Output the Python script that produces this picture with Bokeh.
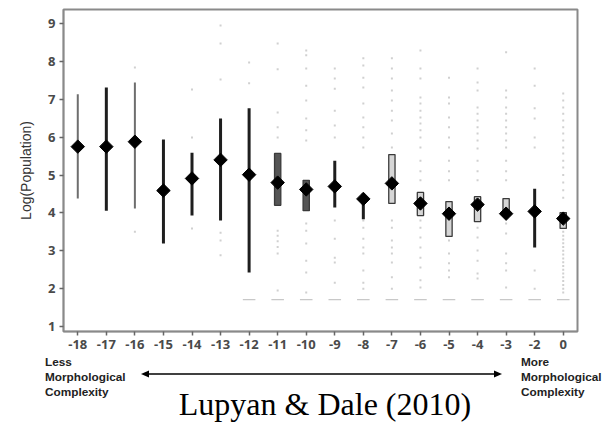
import math
from bokeh.plotting import figure
from bokeh.layouts import column
from bokeh.models import Range1d, FixedTicker, Div
from bokeh.embed import file_html
from bokeh.resources import INLINE

# ---------------- data ----------------
categories = ["-18", "-17", "-16", "-15", "-14", "-13", "-12", "-11", "-10",
              "-9", "-8", "-7", "-6", "-5", "-4", "-3", "-2", "0"]
means = [5.75, 5.75, 5.88, 4.59, 4.91, 5.40, 5.01, 4.80, 4.62,
         4.70, 4.37, 4.78, 4.25, 3.98, 4.22, 3.98, 4.04, 3.85]

line_cats = ["-18", "-17", "-16", "-15", "-14", "-13", "-12", "-9", "-8", "-2"]
line_low = [4.38, 4.06, 4.12, 3.19, 3.93, 3.80, 2.43, 4.14, 3.83, 3.09]
line_high = [7.13, 7.31, 7.44, 5.94, 5.59, 6.49, 6.76, 5.38, 4.51, 4.64]
light_line_cats = ["-18", "-16"]

box_cats = ["-11", "-10", "-7", "-6", "-5", "-4", "-3", "0"]
box_low = [4.20, 4.06, 4.25, 3.93, 3.38, 3.77, 3.93, 3.59]
box_high = [5.57, 4.86, 5.54, 4.54, 4.30, 4.43, 4.38, 4.01]
dark_box_cats = ["-11", "-10"]

dot_values = {
    "-16": [7.84, 3.50],
    "-14": [7.26, 5.99, 3.59],
    "-13": [8.95, 8.47, 7.52, 3.48, 3.27, 2.88],
    "-12": [7.97, 7.42],
    "-11": [8.47, 7.79, 6.65, 6.26, 5.99, 3.53, 3.40, 3.25, 3.10, 2.93, 1.95],
    "-10": [8.29, 8.16, 7.81, 7.36, 6.97, 6.49, 6.18, 5.91, 3.72, 3.53, 3.19, 2.74, 2.43, 1.90],
    "-9": [7.81, 7.55, 7.28, 6.70, 6.31, 5.99, 3.80, 3.32, 2.82, 2.69, 2.16],
    "-8": [8.08, 7.89, 7.57, 7.31, 6.89, 6.52, 6.26, 5.99, 5.73, 3.80, 3.61, 3.32, 3.09, 2.93, 2.48, 2.16, 2.00],
    "-7": [8.08, 7.81, 7.55, 7.23, 6.97, 6.70, 6.44, 6.10, 5.73, 3.80, 3.61, 3.27, 3.09, 2.93, 2.69, 2.30, 2.00],
    "-6": [8.29, 7.81, 7.55, 7.05, 6.89, 6.70, 6.52, 6.36, 6.18, 5.99, 5.73, 5.38, 5.10, 4.86,
           3.80, 3.61, 3.35, 3.09, 2.82, 2.56, 2.22, 2.03],
    "-5": [7.57, 7.05, 6.89, 6.52, 6.26, 5.99, 5.73, 5.38, 5.10, 4.86, 3.27, 2.93, 2.67, 2.48, 2.30],
    "-4": [7.81, 7.44, 7.23, 6.78, 6.62, 6.44, 6.26, 6.10, 5.91, 5.70, 5.38, 5.10, 4.86,
           3.61, 3.35, 3.01, 2.74, 2.40, 2.27],
    "-3": [8.24, 7.23, 7.05, 6.78, 6.62, 6.44, 6.26, 6.10, 5.91, 5.73, 5.38, 5.10, 4.86,
           3.72, 3.46, 2.93, 2.67, 2.48, 2.03],
    "-2": [7.81, 7.36, 6.76, 6.49, 5.99, 5.73, 2.48, 2.00],
    "0": [7.15, 6.97, 6.78, 6.62, 6.44, 6.26, 6.10, 5.91, 5.73, 5.57, 5.38, 5.20, 5.00, 4.80, 4.60, 4.40,
          3.60, 3.50, 3.40, 3.30, 3.20, 3.10, 3.00, 2.90, 2.80, 2.70, 2.60, 2.50, 2.40, 2.30,
          2.20, 2.10, 2.00, 1.90],
}
floor_cats = ["-12", "-11", "-10", "-9", "-8", "-7", "-6", "-5", "-4", "-3", "-2", "0"]
floor_value = 1.71

y_ticks = [1, 2, 3, 4, 5, 6, 7, 8, 9]

left_note = ["Less", "Morphological", "Complexity"]
right_note = ["More", "Morphological", "Complexity"]
caption = "Lupyan & Dale (2010)"

# ---------------- main figure ----------------
W = 606
FL, FT, FW, FH, FB = 63, 9, 514, 322, 26
idx = {c: i for i, c in enumerate(categories)}

p = figure(width=W, height=FT + FH + FB, output_backend="svg", toolbar_location=None,
           x_range=Range1d(-0.5, len(categories) - 0.5), y_range=Range1d(0.87, 9.37),
           min_border_left=FL, min_border_right=W - FL - FW, min_border_top=FT,
           min_border_bottom=FB)
p.background_fill_color = "white"
p.border_fill_color = "white"
p.outline_line_color = "#8a8a8a"
p.outline_line_width = 2
p.xgrid.visible = False
p.ygrid.visible = False

p.xaxis.ticker = FixedTicker(ticks=list(range(len(categories))))
p.xaxis.major_label_overrides = {i: c for i, c in enumerate(categories)}
p.yaxis.ticker = FixedTicker(ticks=y_ticks)
p.xaxis.minor_tick_line_color = None
p.yaxis.minor_tick_line_color = None
for ax in (p.xaxis, p.yaxis):
    ax.axis_line_color = "#8a8a8a"
    ax.axis_line_width = 1.5
    ax.major_tick_line_color = "#666666"
    ax.major_tick_line_width = 1.5
    ax.major_tick_out = 4
    ax.major_tick_in = 0
    ax.major_label_text_font = "Open Sans"
    ax.major_label_text_font_size = "13px"
    ax.major_label_text_font_style = "bold"
    ax.major_label_text_color = "#4a4a4a"
    ax.major_label_standoff = 4
p.yaxis.axis_label = "Log(Population)"
p.yaxis.axis_label_text_font = "Liberation Sans"
p.yaxis.axis_label_text_font_size = "14px"
p.yaxis.axis_label_text_font_style = "normal"
p.yaxis.axis_label_text_color = "#333333"
p.yaxis.axis_label_standoff = 11

# faint dots (individual languages)
dx, dy = [], []
for c, vals in dot_values.items():
    for v in vals:
        dx.append(idx[c])
        dy.append(v)
p.scatter(dx, dy, marker="square", size=2, color="#d0d0d0", line_width=0)

# floor rows
fx = [idx[c] for c in floor_cats]
p.hbar(y=[floor_value] * len(fx), left=[x - 0.22 for x in fx], right=[x + 0.22 for x in fx],
       height=0.03, color="#c8c8c8", line_width=0)

# interval lines
lx = [idx[c] for c in line_cats]
lcol = ["#6e6e6e" if c in light_line_cats else "#1e1e1e" for c in line_cats]
lw = [2 if c in light_line_cats else 3 for c in line_cats]
p.segment(x0=lx, x1=lx, y0=line_low, y1=line_high, line_color=lcol, line_width=lw)

# boxes
bx = [idx[c] for c in box_cats]
bfill = ["#555555" if c in dark_box_cats else "#d6d6d6" for c in box_cats]
p.vbar(x=bx, bottom=box_low, top=box_high, width=0.22, fill_color=bfill,
       line_color="#3a3a3a", line_width=1.3)

# means (diamonds)
p.scatter(list(range(len(categories))), means, marker="square", angle=math.pi / 4,
          size=9.5, color="black")

# ---------------- annotation strip below (HTML text + small svg arrow) ----------------
H2 = 67
note_css = ("position:absolute;white-space:nowrap;font-family:'Liberation Sans',Arial,sans-serif;"
            "font-size:11.8px;font-weight:bold;line-height:1;color:#222;")
tops = [0, 15, 30]
parts = []
for t, top in zip(left_note, tops):
    parts.append(f'<span style="{note_css}left:45px;top:{top}px;">{t}</span>')
for t, top in zip(right_note, tops):
    parts.append(f'<span style="{note_css}left:521px;top:{top}px;">{t}</span>')
ay = 17
parts.append(
    f'<svg style="position:absolute;left:0;top:0;" width="{W}" height="{H2}">'
    f'<line x1="147" y1="{ay}" x2="496" y2="{ay}" stroke="black" stroke-width="1.6"/>'
    f'<polygon points="141,{ay} 149,{ay - 3.5} 149,{ay + 3.5}" fill="black"/>'
    f'<polygon points="502,{ay} 494,{ay - 3.5} 494,{ay + 3.5}" fill="black"/>'
    '</svg>')
parts.append(
    '<span style="position:absolute;white-space:nowrap;left:325px;top:31px;transform:translateX(-50%);'
    "font-family:'Liberation Serif','Times New Roman',serif;font-size:32px;line-height:1;color:#000;\">"
    f'{caption.replace("&", "&amp;")}</span>')
html = f'<div style="position:relative;width:{W}px;height:{H2}px;overflow:visible;">' + "".join(parts) + "</div>"

strip = Div(text=html, width=W, height=H2, margin=0)

layout = column(p, strip, spacing=0)
open("out.html", "w").write(file_html(layout, INLINE))
